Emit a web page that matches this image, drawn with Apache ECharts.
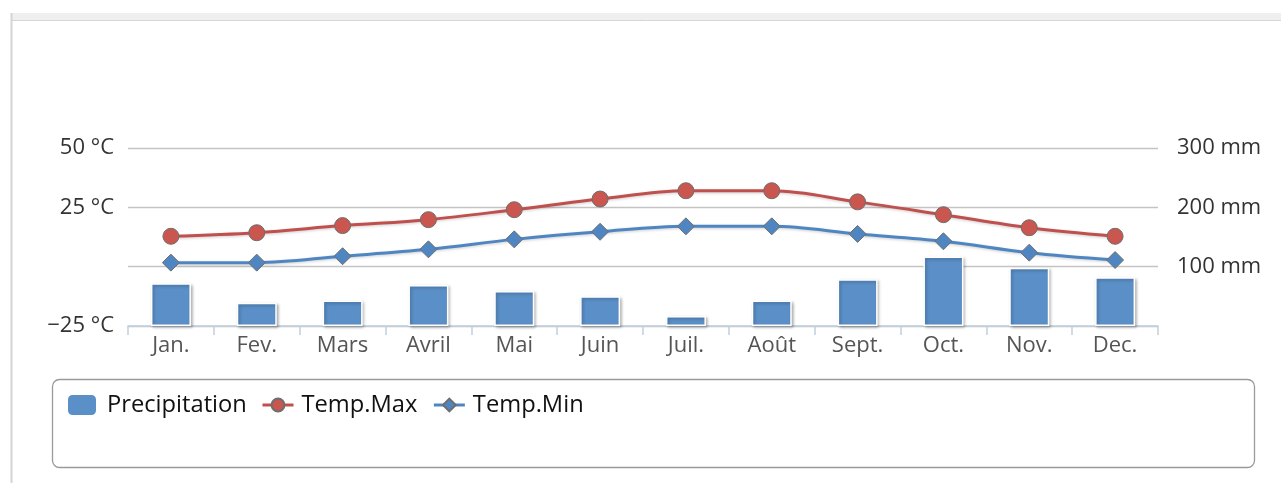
<!DOCTYPE html>
<html>
<head>
<meta charset="utf-8">
<script src="https://cdn.jsdelivr.net/npm/echarts@6/dist/echarts.min.js"></script>
<style>
html,body{margin:0;padding:0;background:#fff;}
#chart{width:1281px;height:483px;}
</style>
</head>
<body>
<div id="chart"></div>
<script>
const months = ['Jan.','Fev.','Mars','Avril','Mai','Juin','Juil.','Août','Sept.','Oct.','Nov.','Dec.'];
const precipitation = [72, 39, 43, 69, 59, 50, 17, 43, 79, 117, 98, 82];
const tempMax = [12.8, 14.3, 17.3, 19.8, 24.0, 28.5, 32.0, 32.0, 27.3, 21.9, 16.4, 12.8];
const tempMin = [1.7, 1.7, 4.4, 7.3, 11.5, 14.7, 17.0, 17.0, 13.8, 10.7, 5.9, 2.8];

const FONT = '"Open Sans", "Noto Sans", sans-serif';
const chart = echarts.init(document.getElementById('chart'), null, {renderer: 'canvas'});
chart.setOption({
  animation: false,
  textStyle: {fontFamily: FONT},
  graphic: [
    {type: 'rect', shape: {x: 12, y: 13, width: 1269, height: 7}, style: {fill: '#efefef'}, silent: true, z: -10},
    {type: 'line', shape: {x1: 12, y1: 20.5, x2: 1281, y2: 20.5}, style: {stroke: '#d6d6d6', lineWidth: 1}, silent: true, z: -10},
    {type: 'line', shape: {x1: 11.5, y1: 13, x2: 11.5, y2: 483}, style: {stroke: '#d4d4d4', lineWidth: 2}, silent: true, z: -10},
    {type: 'rect', shape: {x: 52.5, y: 379.5, width: 1202, height: 88, r: 7}, style: {fill: 'none', stroke: '#9a9a9a', lineWidth: 1.3}, silent: true, z: -5}
  ],
  legend: [
    {
      left: 66, top: 393, padding: 0,
      itemWidth: 30, itemHeight: 22,
      textStyle: {fontFamily: FONT, fontSize: 23.7, color: '#111', padding: [0, 0, 0, 5]},
      data: [{name: 'Precipitation', icon: 'roundRect'}]
    },
    {
      left: 261, top: 393, padding: 0,
      itemWidth: 31, itemHeight: 16,
      itemGap: 15,
      textStyle: {fontFamily: FONT, fontSize: 23.7, color: '#111', padding: [0, 0, 0, 3]},
      lineStyle: {width: 3},
      data: [{name: 'Temp.Max'}, {name: 'Temp.Min'}]
    }
  ],
  grid: {left: 128, right: 123, top: 148, bottom: 157, containLabel: false},
  xAxis: {
    type: 'category',
    data: months,
    boundaryGap: true,
    axisLine: {onZero: false, lineStyle: {color: '#c0d0e0', width: 1.5}},
    axisTick: {show: true, length: 9, lineStyle: {color: '#c0d0e0', width: 1.5}},
    axisLabel: {fontFamily: FONT, fontSize: 22, color: '#555', margin: 9}
  },
  yAxis: [
    {
      type: 'value', min: -25, max: 50, interval: 25, position: 'left',
      axisLine: {show: false}, axisTick: {show: false},
      axisLabel: {fontFamily: FONT, fontSize: 22, color: '#333', margin: 14,
        formatter: v => v === 0 ? '' : (v < 0 ? '\u2212' + Math.abs(v) : v) + ' °C'},
      splitLine: {show: true, lineStyle: {color: '#c4c4c4', width: 1.3}}
    },
    {
      type: 'value', min: 0, max: 300, interval: 100, position: 'right',
      axisLine: {show: false}, axisTick: {show: false},
      axisLabel: {fontFamily: FONT, fontSize: 22, color: '#333', margin: 19,
        formatter: v => v === 0 ? '' : v + ' mm'},
      splitLine: {show: false}
    }
  ],
  series: [
    {
      name: 'Precipitation', type: 'bar', yAxisIndex: 1, data: precipitation,
      barWidth: 40,
      itemStyle: {color: '#5b8fc7', borderColor: '#ffffff', borderWidth: 1.5,
        shadowColor: 'rgba(0,0,0,0.28)', shadowBlur: 3, shadowOffsetX: 1.5, shadowOffsetY: 1.5},
      z: 2
    },
    {
      name: 'Temp.Max', type: 'line', yAxisIndex: 0, data: tempMax,
      smooth: 0.35, symbol: 'circle', symbolSize: 16,
      lineStyle: {color: '#c0504d', width: 3, shadowColor: 'rgba(0,0,0,0.2)', shadowBlur: 3, shadowOffsetY: 1},
      itemStyle: {color: '#c9564f', borderColor: '#6e6e6e', borderWidth: 1},
      z: 4
    },
    {
      name: 'Temp.Min', type: 'line', yAxisIndex: 0, data: tempMin,
      smooth: 0.35, symbol: 'diamond', symbolSize: 17,
      lineStyle: {color: '#4f86c2', width: 3, shadowColor: 'rgba(0,0,0,0.2)', shadowBlur: 3, shadowOffsetY: 1},
      itemStyle: {color: '#4f86c2', borderColor: '#6e6e6e', borderWidth: 1},
      z: 3
    }
  ]
});
</script>
</body>
</html>
